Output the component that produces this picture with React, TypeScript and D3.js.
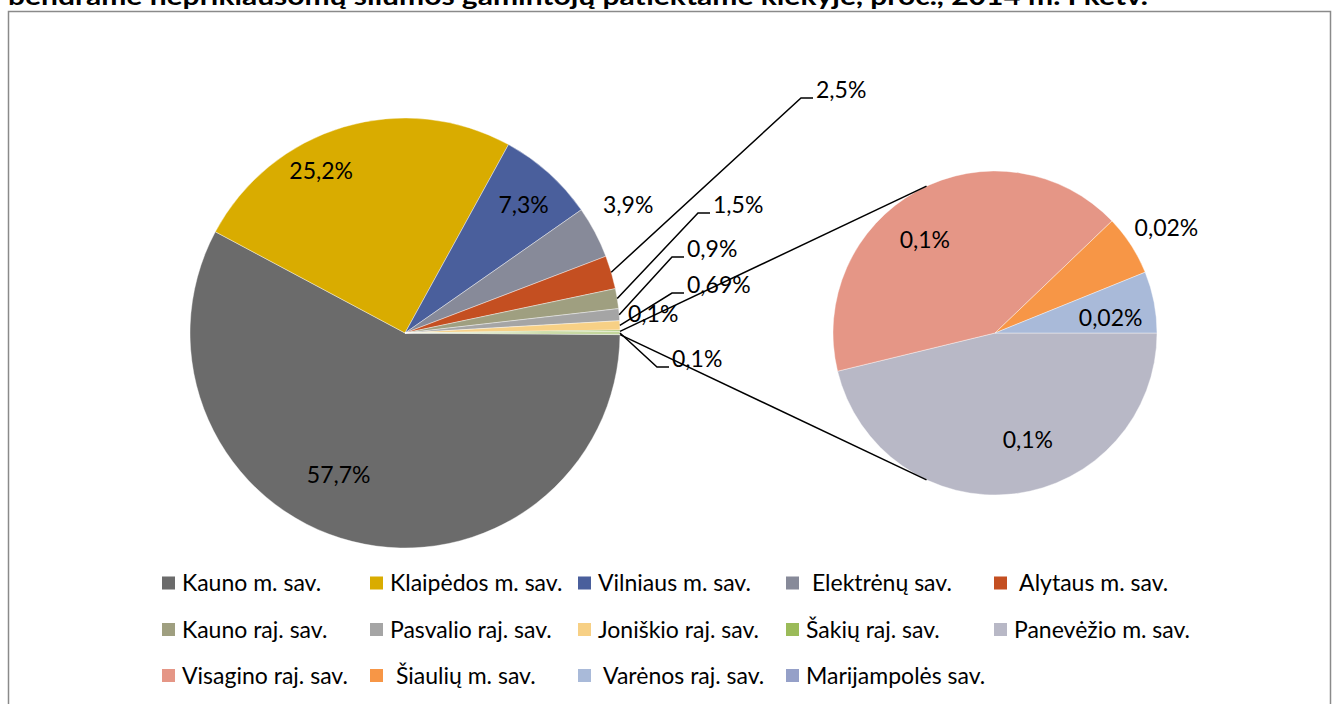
import React from "react";
import * as d3 from "d3";

// ---------- data ----------
const categories = [
  "Kauno m. sav.",
  "Klaipėdos m. sav.",
  "Vilniaus m. sav.",
  " Elektrėnų sav.",
  " Alytaus m. sav.",
  "Kauno raj. sav.",
  "Pasvalio raj. sav.",
  "Joniškio raj. sav.",
  "Šakių raj. sav.",
  "Panevėžio m. sav.",
  "Visagino raj. sav.",
  " Šiaulių m. sav.",
  " Varėnos raj. sav.",
  "Marijampolės sav.",
];
// primary pie (first 9 categories) + "other" slice built from the secondary pie
const mainValues = [57.7, 25.2, 7.3, 3.9, 2.5, 1.5, 0.9, 0.69, 0.1];
const secondValues = [0.111, 0.1, 0.0145, 0.0147, 0];
const mainLabels = ["57,7%", "25,2%", "7,3%", "3,9%", "2,5%", "1,5%", "0,9%", "0,69%", "0,1%", "0,1%"];
const secondLabels = ["0,1%", "0,1%", "0,02%", "0,02%", ""];
const titleText = "bendrame nepriklausomų šilumos gamintojų patiektame kiekyje, proc., 2014 m. I ketv.";

// ---------- styles ----------
const colors = [
  "#6b6b6b",
  "#d9ac00",
  "#4a5f9c",
  "#878a99",
  "#c44f21",
  "#9f9f80",
  "#a5a5a5",
  "#f7d085",
  "#9bbb59",
  "#b8b8c6",
  "#e59686",
  "#f79646",
  "#a9bad9",
  "#95a0c8",
];
const otherColor = "#c4d79b";
const FONT = "Lato, 'Open Sans', sans-serif";

// layout
const W = 1333, H = 704;
const main = { cx: 405, cy: 333, r: 215 };
const sec = { cx: 995, cy: 333, r: 162 };
const connectorAngleDeg = 25; // angle from vertical of connector endpoints on secondary pie

// placement of inside labels (polar, relative to pie centre): angle in deg, radius fraction
const insidePlacement: Record<number, { a: number; f: number }> = {
  0: { a: 205, f: 0.73 },
  1: { a: 332.7, f: 0.85 },
  2: { a: 42.9, f: 0.81 },
};
const secPlacement: Record<number, { a: number; f: number }> = {
  0: { a: 162.9, f: 0.69 },
  1: { a: 323, f: 0.72 },
  2: { a: 58.6, f: 1.24 },
  3: { a: 82.6, f: 0.72 },
};
// outside labels: text start x, baseline y, leader line?
const outsidePlacement: Record<number, { x: number; y: number; leader: boolean }> = {
  3: { x: 603, y: 213, leader: false },
  4: { x: 816, y: 98, leader: true },
  5: { x: 713, y: 213, leader: true },
  6: { x: 687, y: 257, leader: true },
  7: { x: 687, y: 293, leader: true },
  8: { x: 628, y: 322, leader: false },
  9: { x: 672, y: 367, leader: true },
};

const legendCols = [162, 370, 578, 786, 994];
const legendRows = [583, 629.5, 675.5];
const perRow = 5;

function polar(cx: number, cy: number, r: number, a: number) {
  return [cx + r * Math.sin(a), cy - r * Math.cos(a)];
}

export default function App() {
  const otherValue = d3.sum(secondValues);
  const mainData = [...mainValues, otherValue];
  const total = d3.sum(mainData);
  const otherFrac = otherValue / total;
  const start = Math.PI / 2 + otherFrac * Math.PI;

  const mainPie = d3
    .pie<number>()
    .sort(null)
    .value((d) => d)
    .startAngle(start)
    .endAngle(start + 2 * Math.PI)(mainData);

  const secPie = d3
    .pie<number>()
    .sort(null)
    .value((d) => d)
    .startAngle(Math.PI / 2)
    .endAngle(Math.PI / 2 + 2 * Math.PI)(secondValues);

  const mainArc = d3.arc<d3.PieArcDatum<number>>().innerRadius(0).outerRadius(main.r);
  const secArc = d3.arc<d3.PieArcDatum<number>>().innerRadius(0).outerRadius(sec.r);

  const otherSlice = mainPie[mainPie.length - 1];
  const p1 = polar(main.cx, main.cy, main.r, otherSlice.startAngle);
  const p2 = polar(main.cx, main.cy, main.r, otherSlice.endAngle);
  const ca = (connectorAngleDeg * Math.PI) / 180;
  const q1 = polar(sec.cx, sec.cy, sec.r, 2 * Math.PI - ca);
  const q2 = polar(sec.cx, sec.cy, sec.r, Math.PI + ca);

  const labelStyle: React.CSSProperties = { fontFamily: FONT, fontSize: 23, fill: "#000" };

  return (
    <svg
      width={W}
      height={H}
      style={{ position: "absolute", left: 0, top: 0, background: "#fff" }}
    >
      <text
        x={8}
        y={5}
        textLength={1140}
        lengthAdjust="spacingAndGlyphs"
        style={{ fontFamily: FONT, fontSize: 24, fontWeight: 700, fill: "#000" }}
      >
        {titleText}
      </text>
      <rect x={8.5} y={11.5} width={1322} height={800} fill="#fff" stroke="#8a8a8a" strokeWidth={1.5} />

      {/* main pie */}
      <g transform={`translate(${main.cx},${main.cy})`}>
        {mainPie.map((d, i) => (
          <path
            key={i}
            d={mainArc(d) || ""}
            fill={i < mainValues.length ? colors[i] : otherColor}
            stroke="#fff"
            strokeWidth={0.4}
          />
        ))}
      </g>
      {/* secondary pie */}
      <g transform={`translate(${sec.cx},${sec.cy})`}>
        {secPie.map((d, i) =>
          d.value > 0 ? (
            <path
              key={i}
              d={secArc(d) || ""}
              fill={colors[mainValues.length + i]}
              stroke="#fff"
              strokeWidth={0.4}
            />
          ) : null
        )}
      </g>

      {/* connector lines */}
      <line x1={p1[0]} y1={p1[1]} x2={q1[0]} y2={q1[1]} stroke="#000" strokeWidth={1.5} />
      <line x1={p2[0]} y1={p2[1]} x2={q2[0]} y2={q2[1]} stroke="#000" strokeWidth={1.5} />

      {/* main labels */}
      {mainPie.map((d, i) => {
        const ins = insidePlacement[i];
        if (ins) {
          const [x, y] = polar(main.cx, main.cy, main.r * ins.f, (ins.a * Math.PI) / 180);
          return (
            <text key={i} x={x} y={y} dy="0.35em" textAnchor="middle" style={labelStyle}>
              {mainLabels[i]}
            </text>
          );
        }
        const o = outsidePlacement[i];
        if (!o) return null;
        const mid = (d.startAngle + d.endAngle) / 2;
        const [ax, ay] = polar(main.cx, main.cy, main.r, mid);
        return (
          <g key={i}>
            {o.leader && (
              <polyline
                points={`${ax},${ay} ${o.x - 15},${o.y} ${o.x - 3},${o.y}`}
                fill="none"
                stroke="#000"
                strokeWidth={1.5}
              />
            )}
            <text x={o.x} y={o.y} style={labelStyle}>
              {mainLabels[i]}
            </text>
          </g>
        );
      })}

      {/* secondary labels */}
      {secPie.map((d, i) => {
        const pl = secPlacement[i];
        if (!secondLabels[i] || !pl) return null;
        const [x, y] = polar(sec.cx, sec.cy, sec.r * pl.f, (pl.a * Math.PI) / 180);
        return (
          <text key={i} x={x} y={y} dy="0.35em" textAnchor="middle" style={labelStyle}>
            {secondLabels[i]}
          </text>
        );
      })}

      {/* legend */}
      {categories.map((c, i) => {
        const col = i % perRow;
        const row = Math.floor(i / perRow);
        const x = legendCols[col];
        const y = legendRows[row];
        return (
          <g key={c}>
            <rect x={x} y={y - 6.5} width={13} height={13} fill={colors[i]} />
            <text
              x={x + 20}
              y={y + 8}
              style={{ fontFamily: FONT, fontSize: 23, fill: "#000", whiteSpace: "pre" }}
            >
              {c}
            </text>
          </g>
        );
      })}
    </svg>
  );
}
